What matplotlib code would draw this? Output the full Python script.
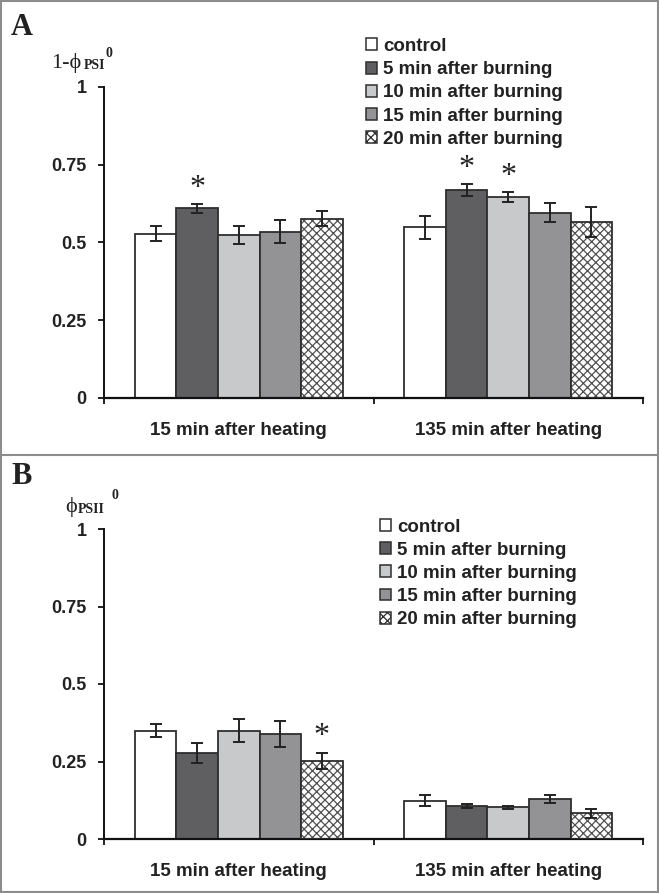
import numpy as np
import matplotlib.pyplot as plt
from matplotlib.patches import Rectangle, Patch
from matplotlib.lines import Line2D

# data
groups = ["15 min after heating", "135 min after heating"]
series = ["control", "5 min after burning", "10 min after burning",
          "15 min after burning", "20 min after burning"]

# panel A : 1-phi_PSI^0
a_vals = [[0.528, 0.610, 0.523, 0.535, 0.577],
          [0.549, 0.668, 0.647, 0.596, 0.567]]
a_errs = [[0.024, 0.014, 0.029, 0.038, 0.025],
          [0.037, 0.020, 0.016, 0.030, 0.048]]
a_star = [[0, 1, 0, 0, 0],
          [0, 1, 1, 0, 0]]

# panel B : phi_PSII^0
b_vals = [[0.350, 0.278, 0.350, 0.340, 0.253],
          [0.124, 0.107, 0.102, 0.128, 0.083]]
b_errs = [[0.022, 0.033, 0.036, 0.042, 0.026],
          [0.018, 0.007, 0.004, 0.013, 0.015]]
b_star = [[0, 0, 0, 0, 1],
          [0, 0, 0, 0, 0]]

yticks = [0, 0.25, 0.5, 0.75, 1]
yticklabels = ["0", "0.25", "0.5", "0.75", "1"]

colors = ["white", "#5f5f61", "#c8c9cb", "#939396", "white"]
hatches = [None, None, None, None, "xxxx"]
edge = "#2e2e2e"

plt.rcParams["hatch.linewidth"] = 0.9

W, H = 659, 893
fig = plt.figure(figsize=(W/100, H/100), dpi=100)

def fx(x):
    return x/W
def fy(y):
    return 1 - y/H

sans = "Liberation Sans"
serif = ["Liberation Serif", "DejaVu Serif"]
phi = "\u03d5"

def panel(ax, vals, errs, stars):
    vals = np.array(vals)
    errs = np.array(errs)
    bw = 0.154
    centers = np.array([0.5, 1.5])
    for i in range(len(series)):
        xs = centers + (i - 2)*bw
        if hatches[i]:
            ax.bar(xs, vals[:, i], bw, color="white", edgecolor="#505050",
                   hatch=hatches[i], linewidth=0, zorder=2)
            ax.bar(xs, vals[:, i], bw, fill=False, edgecolor=edge,
                   linewidth=1.3, zorder=3)
        else:
            ax.bar(xs, vals[:, i], bw, color=colors[i], edgecolor=edge,
                   linewidth=1.3, zorder=2)
        ax.errorbar(xs, vals[:, i], yerr=errs[:, i], fmt="none",
                    ecolor="#222222", elinewidth=1.4, capsize=4,
                    capthick=1.4, zorder=4)
        for k in range(len(groups)):
            if stars[k][i]:
                ax.text(xs[k], vals[k, i] + errs[k, i] + 0.004, "*",
                        ha="center", va="bottom", fontsize=23,
                        family=serif, color="#222222")
    ax.set_xlim(0, 2)
    ax.set_ylim(0, 1)
    ax.spines["top"].set_visible(False)
    ax.spines["right"].set_visible(False)
    ax.spines["left"].set_linewidth(1.4)
    ax.spines["bottom"].set_linewidth(1.6)
    ax.spines["left"].set_color("#111111")
    ax.spines["bottom"].set_color("#111111")
    ax.set_yticks(yticks)
    ax.set_yticklabels(yticklabels, fontsize=13, fontweight="bold",
                       family=sans, color="#222222")
    ax.tick_params(axis="y", length=4.5, width=1.3, pad=8, colors="#111111",
                   labelcolor="#222222")
    ax.set_xticks([0, 1, 2])
    ax.set_xticklabels([])
    ax.tick_params(axis="x", which="major", length=4, width=1.3,
                   colors="#111111")
    ax.set_xticks([0.5, 1.5], minor=True)
    ax.set_xticklabels(groups, minor=True, fontsize=13.5, fontweight="bold",
                       family=sans, color="#222222")
    ax.tick_params(axis="x", which="minor", length=0, pad=17)

axA = fig.add_axes([fx(104), fy(398), (643 - 104)/W, (398 - 87)/H])
panel(axA, a_vals, a_errs, a_star)
axB = fig.add_axes([fx(104), fy(839), (643 - 104)/W, (839 - 529)/H])
panel(axB, b_vals, b_errs, b_star)

handles = [Patch(facecolor=colors[i], edgecolor=edge, linewidth=1.1,
                 hatch=hatches[i]) for i in range(len(series))]
leg_kw = dict(loc="upper left", frameon=False, borderpad=0, borderaxespad=0,
              handlelength=0.6, handleheight=0.6, handletextpad=0.3,
              labelspacing=0.33,
              prop={"family": sans, "weight": "bold", "size": 13.5})
la = fig.legend(handles, series, bbox_to_anchor=(fx(366), fy(38)), **leg_kw)
lb = fig.legend(handles, series, bbox_to_anchor=(fx(380), fy(518.5)), **leg_kw)
for lg in (la, lb):
    for t in lg.get_texts():
        t.set_color("#222222")

# panel letters and y labels
fig.text(fx(11), fy(35), "A", fontsize=22, fontweight="bold", family=serif,
         color="#222222")
fig.text(fx(11), fy(484), "B", fontsize=22, fontweight="bold", family=serif,
         color="#222222")

fig.text(fx(51), fy(68), "1-" + phi, fontsize=16, family=serif, color="#222222")
fig.text(fx(84), fy(69), "PSI", fontsize=10, fontweight="bold", family=serif,
         color="#222222")
fig.text(fx(106), fy(57), "0", fontsize=10, fontweight="bold", family=serif,
         color="#222222")

fig.text(fx(65), fy(512), phi, fontsize=16, family=serif, color="#222222")
fig.text(fx(78), fy(513), "PSII", fontsize=10, fontweight="bold", family=serif,
         color="#222222")
fig.text(fx(112), fy(499), "0", fontsize=10, fontweight="bold", family=serif,
         color="#222222")

# frame and separator
fig.add_artist(Rectangle((0.001, 0.001), 0.998, 0.998, transform=fig.transFigure,
                         fill=False, edgecolor="#8c8c8c", linewidth=1.5))
fig.add_artist(Line2D([0, 1], [fy(455), fy(455)], transform=fig.transFigure,
                      color="#8c8c8c", linewidth=1.5))

fig.savefig("out.png", dpi=100)
